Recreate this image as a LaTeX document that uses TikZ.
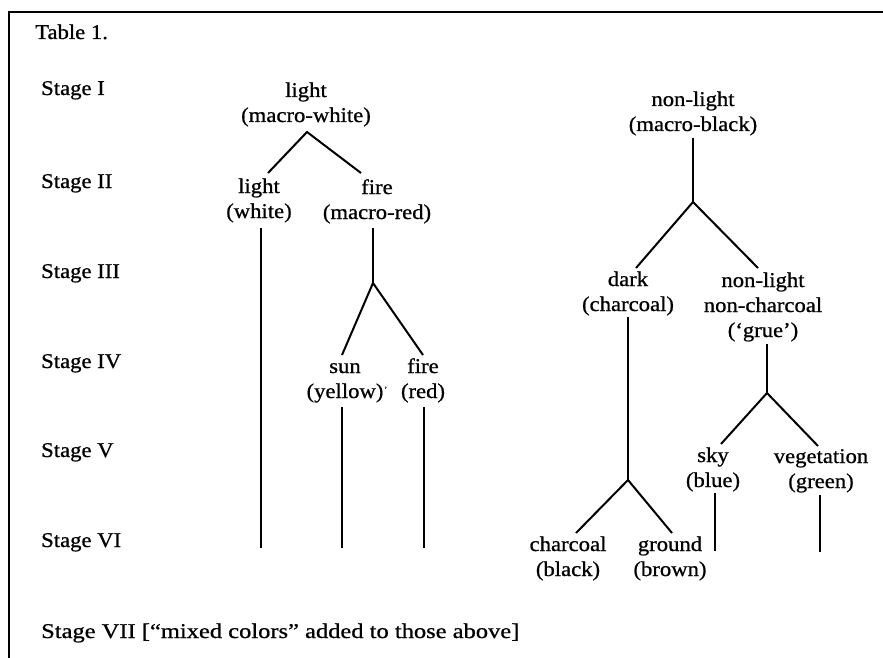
\documentclass[tikz,border=0pt]{standalone}
\usepackage{graphicx}
\usepackage{fontspec}
\setmainfont{Liberation Serif}[FakeStretch=1.08,FakeBold=0.8]
% stacked, centred label lines; the baseline is that of the first line
\newcommand\lbltext[1]{\begin{tabular}[t]{@{}c@{}}#1\end{tabular}}
\begin{document}
\begin{tikzpicture}[x=1pt,y=-1pt,
  txt/.style={font=\fontsize{21}{25}\selectfont, inner sep=0pt, anchor=base},
  stagelbl/.style={txt, anchor=base west},
  branch/.style={line width=2pt},
  frame/.style={line width=2.4pt}]
\useasboundingbox (0,0) rectangle (883,658);

% frame (top and left rules)
\draw[frame] (9,658) -- (9,12) -- (883,12);

% heading and stage column
\node[stagelbl] (title) at (35,39) {Table 1.};
\node[stagelbl] (s1) at (41,95)  {Stage I};
\node[stagelbl] (s2) at (41,188) {Stage II};
\node[stagelbl] (s3) at (41,278) {Stage III};
\node[stagelbl] (s4) at (41,368) {Stage IV};
\node[stagelbl] (s5) at (41,457) {Stage V};
\node[stagelbl] (s6) at (41,547) {Stage VI};
\node[stagelbl] (s7) at (41,638) {\scalebox{1.08}[1]{Stage VII [“mixed colors” added to those above]}};

% ---- light branch ----
\node[txt] (mwhite) at (306,97)  {\lbltext{light\\(macro-white)}};
\node[txt] (white)  at (259,193) {\lbltext{light\\(white)}};
\node[txt] (mred)   at (377,194) {\lbltext{fire\\(macro-red)}};
\node[txt] (yellow) at (345,373) {\lbltext{sun\\(yellow)\rlap{\kern1pt\raisebox{6pt}{\fontsize{8}{8}\selectfont ’}}}};
\node[txt] (red)    at (423,373) {\lbltext{fire\\(red)}};

\coordinate (mwhiteFork) at (307,132);
\coordinate (whiteTop) at (268,173);
\coordinate (mredTop) at (361,173);
\coordinate (whiteStem) at (261,228);
\coordinate (whiteEnd) at (261,548);
\coordinate (mredStem) at (373,228);
\coordinate (mredFork) at (373,283);
\coordinate (yellowTop) at (342,355);
\coordinate (redTop) at (423,355);
\coordinate (yellowStem) at (342,407);
\coordinate (yellowEnd) at (342,548);
\coordinate (redStem) at (424,407);
\coordinate (redEnd) at (424,548);

\draw[branch] (whiteTop) -- (mwhiteFork) -- (mredTop);
\draw[branch] (whiteStem) -- (whiteEnd);
\draw[branch] (mredStem) -- (mredFork);
\draw[branch] (yellowTop) -- (mredFork) -- (redTop);
\draw[branch] (yellowStem) -- (yellowEnd);
\draw[branch] (redStem) -- (redEnd);

% ---- non-light branch ----
\node[txt] (mblack) at (693,106) {\lbltext{non-light\\(macro-black)}};
\node[txt] (dark)   at (628,286) {\lbltext{dark\\(charcoal)}};
\node[txt] (grue)   at (763,287) {\lbltext{non-light\\non-charcoal\\(‘grue’)}};
\node[txt] (black)  at (568,551) {\lbltext{charcoal\\(black)}};
\node[txt] (brown)  at (670,551) {\lbltext{ground\\(brown)}};
\node[txt] (blue)   at (713,462) {\lbltext{sky\\(blue)}};
\node[txt] (green)  at (821,463) {\lbltext{vegetation\\(green)}};

\coordinate (mblackStem) at (693,138);
\coordinate (mblackFork) at (693,202);
\coordinate (darkTop) at (636,268);
\coordinate (grueTop) at (758,268);
\coordinate (darkStem) at (628,317);
\coordinate (darkFork) at (628,480);
\coordinate (blackTop) at (576,533);
\coordinate (brownTop) at (672,533);
\coordinate (grueStem) at (767,344);
\coordinate (grueFork) at (767,393);
\coordinate (blueTop) at (721,444);
\coordinate (greenTop) at (818,446);
\coordinate (blueStem) at (715,493);
\coordinate (blueEnd) at (715,551);
\coordinate (greenStem) at (820,495);
\coordinate (greenEnd) at (820,552);

\draw[branch] (mblackStem) -- (mblackFork);
\draw[branch] (darkTop) -- (mblackFork) -- (grueTop);
\draw[branch] (darkStem) -- (darkFork);
\draw[branch] (blackTop) -- (darkFork) -- (brownTop);
\draw[branch] (grueStem) -- (grueFork);
\draw[branch] (blueTop) -- (grueFork) -- (greenTop);
\draw[branch] (blueStem) -- (blueEnd);
\draw[branch] (greenStem) -- (greenEnd);
\end{tikzpicture}
\end{document}
